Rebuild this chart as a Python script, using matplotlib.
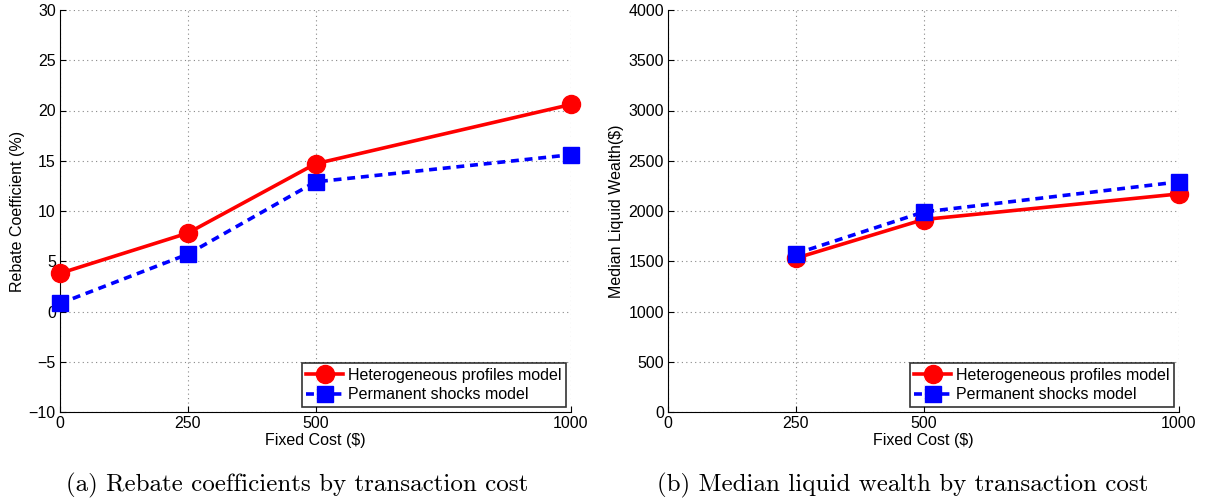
import matplotlib
matplotlib.use("Agg")
import matplotlib.pyplot as plt

# Fixed transaction cost levels ($)
cost_a = [0, 250, 500, 1000]
cost_b = [250, 500, 1000]
x_ticks = [0, 250, 500, 1000]

# Panel (a): rebate coefficients (%)
rebate_hetero = [3.8, 7.8, 14.7, 20.6]
rebate_perm = [0.8, 5.7, 12.9, 15.6]

# Panel (b): median liquid wealth ($)
wealth_hetero = [1530, 1915, 2170]
wealth_perm = [1575, 1990, 2290]

label_hetero = "Heterogeneous profiles model"
label_perm = "Permanent shocks model"

plt.rcParams["font.family"] = ["Liberation Sans", "DejaVu Sans"]

fig = plt.figure(figsize=(12.07, 4.99), dpi=100)
W, H = 1207, 499
ax1 = fig.add_axes([60 / W, 1 - 412 / H, 511 / W, 402 / H])
ax2 = fig.add_axes([668 / W, 1 - 412 / H, 511 / W, 402 / H])


def style(ax, ylim, yticks, ylabel):
    ax.set_xlim(0, 1000)
    ax.set_ylim(*ylim)
    ax.set_xticks(x_ticks)
    ax.set_yticks(yticks)
    ax.tick_params(direction="in", length=4, labelsize=11.5, width=0.8, pad=3)
    ax.grid(True, linestyle=(0, (1, 3)), color="#888888", linewidth=0.8)
    ax.spines["top"].set_visible(False)
    ax.spines["right"].set_visible(False)
    ax.set_xlabel("Fixed Cost ($)", fontsize=11.5, labelpad=1)
    ax.set_ylabel(ylabel, fontsize=11.5, labelpad=3)
    ax.set_axisbelow(True)
    leg = ax.legend(loc="lower right", fontsize=11.5, frameon=True, fancybox=False,
                    edgecolor="black", borderpad=0.3, handlelength=2.3,
                    handletextpad=0.3, labelspacing=0.3, borderaxespad=0.3,
                    numpoints=1)
    leg.get_frame().set_linewidth(1.2)


ax1.plot(cost_a, rebate_hetero, color="red", linewidth=2.6, marker="o",
         markersize=13, label=label_hetero, clip_on=False, zorder=4)
ax1.plot(cost_a, rebate_perm, color="blue", linewidth=2.6, linestyle=(0, (2.2, 1.6)),
         marker="s", markersize=11.5, label=label_perm, clip_on=False, zorder=3)
style(ax1, (-10, 30), range(-10, 31, 5), "Rebate Coefficient (%)")

ax2.plot(cost_b, wealth_hetero, color="red", linewidth=2.6, marker="o",
         markersize=13, label=label_hetero, clip_on=False, zorder=3)
ax2.plot(cost_b, wealth_perm, color="blue", linewidth=2.6, linestyle=(0, (2.2, 1.6)),
         marker="s", markersize=11.5, label=label_perm, clip_on=False, zorder=4)
style(ax2, (0, 4000), range(0, 4001, 500), "Median Liquid Wealth($)")

fig.text(297 / W, 1 - 485 / H, "(a) Rebate coefficients by transaction cost",
         ha="center", va="center", fontsize=18, family="cmr10")
fig.text(903 / W, 1 - 485 / H, "(b) Median liquid wealth by transaction cost",
         ha="center", va="center", fontsize=18, family="cmr10")

fig.savefig("out.png", dpi=100)
